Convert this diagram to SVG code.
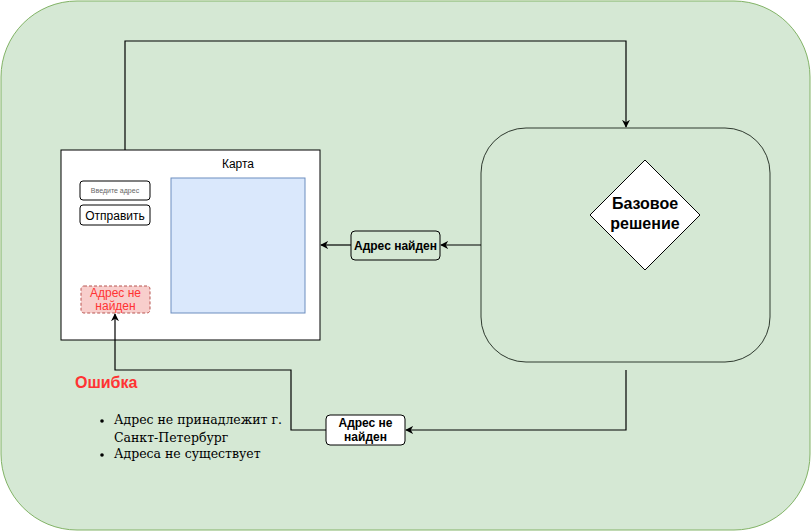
<svg xmlns="http://www.w3.org/2000/svg" width="811" height="531" viewBox="0 0 811 531">
<defs>
<marker id="arr" viewBox="0 0 10 10" refX="9" refY="5" markerWidth="8" markerHeight="8" markerUnits="userSpaceOnUse" orient="auto">
<path d="M0,0 L10,5 L0,10 L3,5 Z" fill="#000"/>
</marker>
<style>
.sans{font-family:"Liberation Sans",Arial,sans-serif}
.lbl{font-family:"Liberation Sans",Arial,sans-serif;font-size:12px;font-weight:bold;fill:#000;text-anchor:middle}
.box{fill:#fff;stroke:#000;stroke-width:1}
.edge{fill:none;stroke:#000;stroke-width:1.2}
</style>
</defs>
<g id="background"><rect x="1" y="1" width="809" height="529" rx="76" ry="76" fill="#d5e8d4" stroke="#82b366" stroke-width="1"/></g>
<g id="system"><rect x="481" y="128" width="289" height="234" rx="45" ry="45" fill="#d5e8d4" stroke="#2f3a2f" stroke-width="1"/></g>
<g id="decision">
<polygon points="645,160 700,215 645,270 590,215" fill="#fff" stroke="#000" stroke-width="1"/>
<text class="sans" x="645" y="209" font-size="16" font-weight="bold" text-anchor="middle">Базовое</text>
<text class="sans" x="645" y="229" font-size="16" font-weight="bold" text-anchor="middle">решение</text>
</g>
<g id="window">
<rect x="61" y="150" width="259" height="190" fill="#fff" stroke="#000" stroke-width="1"/>
<text class="sans" x="238" y="168" font-size="12" text-anchor="middle">Карта</text>
<rect x="171" y="178" width="134" height="135" fill="#dae8fc" stroke="#6c8ebf" stroke-width="1"/>
</g>
<g id="input">
<rect x="80" y="181" width="70" height="19" rx="3" class="box"/>
<text class="sans" x="115" y="193" font-size="7" fill="#666" text-anchor="middle">Введите адрес</text>
</g>
<g id="submit">
<rect x="80" y="205" width="70" height="20" rx="3" class="box"/>
<text class="sans" x="115" y="219.5" font-size="12" text-anchor="middle">Отправить</text>
</g>
<g id="errbox">
<rect x="81" y="286" width="69" height="27" rx="3" fill="#f8cecc" stroke="#b85450" stroke-width="1" stroke-dasharray="3,2"/>
<text class="sans" x="115.5" y="297" font-size="12" fill="#ff3333" text-anchor="middle">Адрес не</text>
<text class="sans" x="115.5" y="310" font-size="12" fill="#ff3333" text-anchor="middle">найден</text>
</g>
<g id="error-text">
<text class="sans" x="75" y="388" font-size="16" font-weight="bold" fill="#ff3333">Ошибка</text>
<g font-family="'DejaVu Serif','Liberation Serif',serif" font-size="12.5" fill="#000">
<circle cx="102" cy="421" r="1.8"/>
<text x="114" y="424">Адрес не принадлежит г.</text>
<text x="114" y="442">Санкт-Петербург</text>
<circle cx="102" cy="455" r="1.8"/>
<text x="114" y="458">Адреса не существует</text>
</g>
</g>
<g id="connectors">
<path class="edge" d="M125,150 V41 H626 V127" marker-end="url(#arr)"/>
<path class="edge" d="M481,245 H441" marker-end="url(#arr)"/>
<path class="edge" d="M351,245 H321" marker-end="url(#arr)"/>
<path class="edge" d="M626,370 V430 H406" marker-end="url(#arr)"/>
<path class="edge" d="M326,430 H291 V370 H115 V314" marker-end="url(#arr)"/>
</g>
<g id="label-found">
<rect x="351" y="231" width="89" height="29" rx="4" class="box" style="fill:#d5e8d4"/>
<text class="lbl" x="395.5" y="249.5">Адрес найден</text>
</g>
<g id="label-notfound">
<rect x="326" y="415" width="79" height="30" rx="4" class="box" style="fill:#fff"/>
<text class="lbl" x="365.5" y="427">Адрес не</text>
<text class="lbl" x="365.5" y="441">найден</text>
</g>
</svg>
